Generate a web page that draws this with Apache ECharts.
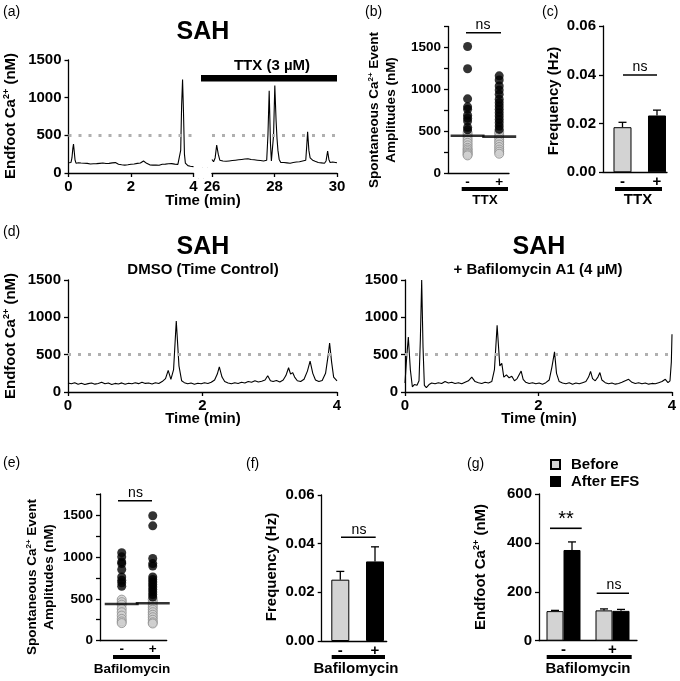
<!DOCTYPE html>
<html><head><meta charset="utf-8">
<script src="https://cdn.jsdelivr.net/npm/echarts@6/dist/echarts.min.js"></script>
<style>html,body{margin:0;padding:0;background:#fff}#c{width:680px;height:681px}</style>
</head><body><div id="c"></div>
<script>
// ---------------- DATA ----------------
const threshold = 500;
const cats = ['-', '+'];
// (a) SAH trace before TTX, time (min) / Ca2+ (nM)
const traceA_before = [[0.00,135],[0.04,128],[0.08,140],[0.11,200],[0.14,330],[0.16,385],[0.18,300],[0.21,170],[0.24,130],[0.28,118],[0.32,135],[0.36,120],[0.40,132],[0.45,118],[0.50,130],[0.55,115],[0.60,128],[0.65,136],[0.70,120],[0.75,130],[0.80,122],[0.85,134],[0.90,124],[0.95,116],[1.00,128],[1.05,120],[1.10,132],[1.15,118],[1.20,126],[1.25,114],[1.30,128],[1.35,120],[1.40,134],[1.45,124],[1.50,138],[1.55,122],[1.60,116],[1.65,124],[1.70,110],[1.75,118],[1.80,105],[1.85,115],[1.90,110],[1.95,102],[2.00,116],[2.05,108],[2.10,120],[2.15,106],[2.20,128],[2.25,115],[2.30,132],[2.35,148],[2.40,160],[2.45,140],[2.50,128],[2.55,118],[2.60,108],[2.65,120],[2.70,104],[2.75,114],[2.80,106],[2.85,118],[2.90,103],[2.95,108],[3.00,116],[3.05,102],[3.10,118],[3.15,108],[3.20,122],[3.25,112],[3.30,125],[3.35,108],[3.40,118],[3.45,106],[3.50,114],[3.55,120],[3.59,300],[3.62,900],[3.65,1240],[3.68,800],[3.71,250],[3.74,130],[3.78,112],[3.82,98],[3.86,110],[3.90,90],[3.95,100],[4.00,85]];
// (a) SAH trace with TTX
const traceA_ttx = [[26.00,180],[26.05,150],[26.10,200],[26.15,370],[26.20,250],[26.25,170],[26.30,150],[26.35,160],[26.40,140],[26.45,155],[26.50,145],[26.55,160],[26.60,150],[26.65,165],[26.70,155],[26.75,170],[26.80,160],[26.85,175],[26.90,165],[26.95,180],[27.00,170],[27.05,185],[27.10,175],[27.15,190],[27.20,170],[27.25,180],[27.30,165],[27.35,175],[27.40,160],[27.45,170],[27.50,155],[27.55,165],[27.60,150],[27.65,160],[27.70,155],[27.75,170],[27.79,500],[27.83,1090],[27.87,400],[27.90,160],[27.94,170],[27.97,500],[28.01,1160],[28.05,700],[28.08,460],[28.11,300],[28.15,180],[28.20,140],[28.25,130],[28.30,140],[28.35,125],[28.40,135],[28.45,120],[28.50,130],[28.55,125],[28.60,140],[28.65,130],[28.70,145],[28.75,135],[28.80,150],[28.85,140],[28.90,160],[28.95,150],[29.00,170],[29.03,350],[29.06,548],[29.10,300],[29.14,200],[29.18,190],[29.22,170],[29.26,175],[29.30,155],[29.35,160],[29.40,140],[29.45,150],[29.50,135],[29.55,145],[29.60,130],[29.65,160],[29.70,292],[29.74,180],[29.78,140],[29.82,130],[29.86,145],[29.90,130],[29.95,140],[30.00,135]];
// (d) DMSO time control trace
const traceD_dmso = [[0.00,120],[0.05,110],[0.10,125],[0.15,105],[0.20,118],[0.25,100],[0.30,112],[0.35,120],[0.40,105],[0.45,115],[0.50,130],[0.55,110],[0.60,120],[0.65,100],[0.70,115],[0.75,108],[0.80,122],[0.85,105],[0.90,118],[0.95,110],[1.00,125],[1.05,112],[1.10,130],[1.15,115],[1.20,120],[1.25,108],[1.30,125],[1.35,115],[1.40,140],[1.45,180],[1.49,290],[1.53,170],[1.57,300],[1.61,950],[1.65,350],[1.69,150],[1.73,125],[1.78,110],[1.83,120],[1.88,105],[1.93,118],[1.98,110],[2.03,125],[2.08,115],[2.13,130],[2.18,160],[2.22,240],[2.25,337],[2.29,200],[2.33,140],[2.38,120],[2.43,110],[2.48,125],[2.53,115],[2.58,130],[2.63,120],[2.68,140],[2.73,130],[2.78,150],[2.83,135],[2.88,145],[2.93,160],[2.97,218],[3.01,150],[3.05,140],[3.10,155],[3.15,135],[3.20,160],[3.24,220],[3.28,325],[3.31,240],[3.34,260],[3.37,200],[3.41,150],[3.46,140],[3.51,170],[3.56,280],[3.60,413],[3.64,250],[3.68,160],[3.73,140],[3.78,155],[3.83,250],[3.87,500],[3.89,657],[3.92,400],[3.95,200],[4.00,150]];
// (d) Bafilomycin A1 trace
const traceD_baf = [[0.00,120],[0.02,400],[0.05,737],[0.08,300],[0.11,70],[0.14,100],[0.18,90],[0.21,150],[0.23,700],[0.25,1500],[0.27,600],[0.29,90],[0.32,60],[0.36,100],[0.40,120],[0.45,110],[0.50,125],[0.55,115],[0.60,140],[0.65,120],[0.70,130],[0.75,115],[0.80,125],[0.85,110],[0.90,130],[0.95,150],[1.00,200],[1.05,140],[1.10,125],[1.15,115],[1.20,130],[1.25,120],[1.30,140],[1.34,300],[1.38,893],[1.42,350],[1.45,383],[1.48,200],[1.52,230],[1.56,190],[1.60,210],[1.64,150],[1.68,180],[1.71,230],[1.74,280],[1.77,170],[1.81,130],[1.86,115],[1.91,125],[1.96,110],[2.01,120],[2.06,105],[2.11,125],[2.16,160],[2.20,330],[2.24,537],[2.27,250],[2.31,140],[2.36,120],[2.41,110],[2.46,125],[2.51,105],[2.56,120],[2.61,110],[2.66,125],[2.71,140],[2.75,200],[2.78,277],[2.81,180],[2.85,150],[2.89,200],[2.92,260],[2.95,160],[3.00,125],[3.05,110],[3.10,120],[3.15,105],[3.20,115],[3.25,130],[3.30,150],[3.35,170],[3.40,130],[3.45,115],[3.50,125],[3.55,110],[3.60,120],[3.65,105],[3.70,115],[3.75,110],[3.80,125],[3.85,140],[3.90,170],[3.94,125],[3.97,150],[3.99,400],[4.00,773]];
// (b) event amplitudes, TTX - / +
const ampTTXminusHigh = [1510,1245,885,790,760,690,655,620,545,515];
const ampTTXminusLow  = [480,450,420,390,360,330,300,280,260,240,225,210];
const ampTTXplusHigh  = [1160,1110,1040,990,940,880,840,800,760,720,680,640,600,560,520];
const ampTTXplusLow   = [490,460,430,400,370,340,310,280,255,230];
const ampTTXmeans     = [445,434];
// (c) frequency, TTX - / +
const freqTTX    = [0.0185,0.0233];
const freqTTXerr = [0.0020,0.0022];
// (e) event amplitudes, Bafilomycin - / +
const ampBafMinusHigh = [1050,1000,940,920,850,760,720,690,650];
const ampBafMinusLow  = [490,460,430,380,340,300,260,230,210];
const ampBafPlusHigh  = [1490,1370,980,920,890,760,730,700,670,640,610,580,550,520];
const ampBafPlusLow   = [490,460,430,400,370,340,310,280,250,220,205];
const ampBafMeans     = [438,446];
// (f) frequency, Bafilomycin - / +
const freqBaf    = [0.0252,0.0327];
const freqBafErr = [0.0034,0.0060];
// (g) endfoot Ca2+ before / after EFS, Bafilomycin - / +
const efsBefore    = [121,124];
const efsBeforeErr = [3,6];
const efsAfter     = [371,122];
const efsAfterErr  = [33,6];

// ---------------- STYLE HELPERS ----------------
const FF = '"Liberation Sans", Arial, Helvetica, sans-serif';
const BLACK = '#000';
const GRAY = '#d3d3d3';
const axLine = {show:true, onZero:false, lineStyle:{color:BLACK, width:1.3}};
const plain = (v)=>String(v);

function yAx(gi, min, max, interval, fs, fmt, show) {
  return {gridIndex:gi, type:'value', min, max, interval, show: show !== false,
    axisLine: axLine,
    axisTick:{show:true, inside:false, length:4, lineStyle:{color:BLACK, width:1.3}},
    splitLine:{show:false},
    axisLabel:{color:BLACK, fontFamily:FF, fontWeight:'bold', fontSize:fs, margin:7, formatter:fmt || plain}};
}
function timeX(gi, min, max) {
  return {gridIndex:gi, type:'value', min, max, interval:2,
    axisLine: axLine,
    axisTick:{show:true, length:4, lineStyle:{color:BLACK, width:1.3}},
    splitLine:{show:false},
    axisLabel:{color:BLACK, fontFamily:FF, fontWeight:'bold', fontSize:15, margin:6, formatter:plain}};
}
function catValX(gi, min, max, fs) {
  return {gridIndex:gi, type:'value', min, max,
    axisLine: axLine, axisTick:{show:false}, splitLine:{show:false},
    axisLabel:{customValues:[0,1], color:BLACK, fontFamily:FF, fontWeight:'bold', fontSize:fs, margin:2,
      formatter:(v)=>cats[Math.round(v)] }};
}
const mark500 = {silent:true, symbol:'none', label:{show:false}, animation:false,
  lineStyle:{color:'#b0b0b0', type:[3,7], width:3, cap:'butt'}, data:[{yAxis:threshold}]};
function trace(xi, data) {
  return {type:'line', xAxisIndex:xi, yAxisIndex:xi, data, showSymbol:false, symbol:'none',
    lineStyle:{color:BLACK, width:1.1}, markLine:mark500, z:3};
}
function dots(xi, minusArr, plusArr, high) {
  const d = minusArr.map(v=>[0,v]).concat(plusArr.map(v=>[1,v]));
  return {type:'scatter', xAxisIndex:xi, yAxisIndex:xi, data:d, symbolSize:9,
    itemStyle: high ? {color:BLACK} : {color:'#d0d0d0', borderColor:'#8c8c8c', borderWidth:1},
    z: high ? 4 : 3};
}
function means(xi, arr) {
  return {type:'scatter', xAxisIndex:xi, yAxisIndex:xi, data:arr.map((v,i)=>[i,v]),
    symbol:'rect', symbolSize:[34,2.6], itemStyle:{color:BLACK}, z:5};
}
function errBars(xi, means, errs, offset) {
  return {type:'custom', xAxisIndex:xi, yAxisIndex:xi, z:1,
    data: means.map((m,i)=>[i, m, errs[i]]),
    renderItem:(p, api)=>{
      const x = api.value(0), m = api.value(1), e = api.value(2);
      const top = api.coord([x, m+e]), base = api.coord([x, m]);
      const cx = top[0] + offset;
      return {type:'group', children:[
        {type:'line', shape:{x1:cx, y1:top[1], x2:cx, y2:base[1]}, style:{stroke:BLACK, lineWidth:1.3}},
        {type:'line', shape:{x1:cx-4, y1:top[1], x2:cx+4, y2:top[1]}, style:{stroke:BLACK, lineWidth:1.3}}
      ]};
    }};
}
function freqBars(xi, vals) {
  return {type:'bar', xAxisIndex:xi, yAxisIndex:xi, barWidth:18, z:2,
    data: vals.map((v,i)=>({value:[i,v], itemStyle:{color: i===0 ? GRAY : BLACK, borderColor:BLACK, borderWidth:1}}))};
}

// graphic helpers
const T = (x,y,text,size,weight,extra)=>({type:'text', x, y, silent:true, z:100,
  style:Object.assign({text, fill:BLACK, fontFamily:FF, fontSize:size, fontWeight:weight||'normal', align:'center', verticalAlign:'middle'}, extra||{})});
const TL = (x,y,text)=>T(x,y,text,14,'normal',{align:'left'});
const L = (x1,y1,x2,y2,w)=>({type:'line', silent:true, z:100, shape:{x1,y1,x2,y2}, style:{stroke:BLACK, lineWidth:w}});
const supRich = (fs)=>({s:{fontSize:Math.round(fs*0.6), fontWeight:'bold', fontFamily:FF, fill:BLACK, padding:[0,0,Math.round(fs*0.5),0]}});
const V = (x,y,text,fs)=>({type:'text', x, y, rotation:Math.PI/2, silent:true, z:100,
  style:{text, fill:BLACK, fontFamily:FF, fontSize:fs, fontWeight:'bold', align:'center', verticalAlign:'middle', lineHeight:fs+3, rich:supRich(fs)}});

// ---------------- OPTION ----------------
const option = {
  animation:false,
  backgroundColor:'#fff',
  textStyle:{fontFamily:FF},
  grid:[
    {left:68.5, top:60, width:125, height:113},    // 0 a left
    {left:212, top:60, width:125, height:113},     // 1 a right
    {left:448, top:26.4, width:61, height:146.6},  // 2 b
    {left:603, top:26, width:64, height:146.3},    // 3 c
    {left:68, top:280, width:269, height:112},     // 4 d left
    {left:405, top:280, width:267, height:112},    // 5 d right
    {left:100, top:494, width:66.7, height:146.7}, // 6 e
    {left:321.7, top:495, width:65, height:146},   // 7 f
    {left:539, top:494, width:98, height:146.7}    // 8 g
  ],
  xAxis:[
    timeX(0,0,4), timeX(1,26,30),
    catValX(2,-0.62,1.31,13.5), catValX(3,-0.565,1.29,15),
    timeX(4,0,4), timeX(5,0,4),
    catValX(6,-0.70,1.45,13.5), catValX(7,-0.536,1.337,15),
    {gridIndex:8, type:'category', data:cats, axisLine:axLine, axisTick:{show:false},
     axisLabel:{color:BLACK, fontFamily:FF, fontWeight:'bold', fontSize:15, margin:2}}
  ],
  yAxis:[
    yAx(0,0,1500,500,15), yAx(1,0,1500,500,15,null,false),
    yAx(2,0,1750,250,13.5,(v)=> v%500===0 ? String(v) : ''),
    yAx(3,0,0.06,0.02,15,(v)=>v.toFixed(2)),
    yAx(4,0,1500,500,15), yAx(5,0,1500,500,15),
    yAx(6,0,1750,250,13.5,(v)=> v%500===0 ? String(v) : ''),
    yAx(7,0,0.06,0.02,15,(v)=>v.toFixed(2)),
    yAx(8,0,600,200,15)
  ],
  legend:{data:['Before','After EFS'], orient:'vertical', left:545, top:452, itemWidth:9, itemHeight:9, itemGap:2,
    icon:'rect', textStyle:{fontFamily:FF, fontWeight:'bold', fontSize:15, color:BLACK, padding:[0,0,0,6], lineHeight:15}},
  series:[
    trace(0, traceA_before), trace(1, traceA_ttx),
    dots(2, ampTTXminusLow, ampTTXplusLow, false), dots(2, ampTTXminusHigh, ampTTXplusHigh, true), means(2, ampTTXmeans),
    freqBars(3, freqTTX), errBars(3, freqTTX, freqTTXerr, 0),
    trace(4, traceD_dmso), trace(5, traceD_baf),
    dots(6, ampBafMinusLow, ampBafPlusLow, false), dots(6, ampBafMinusHigh, ampBafPlusHigh, true), means(6, ampBafMeans),
    freqBars(7, freqBaf), errBars(7, freqBaf, freqBafErr, 0),
    {name:'Before', type:'bar', xAxisIndex:8, yAxisIndex:8, data:efsBefore, barWidth:17, barGap:'0%', z:2,
      itemStyle:{color:GRAY, borderColor:BLACK, borderWidth:1}},
    {name:'After EFS', type:'bar', xAxisIndex:8, yAxisIndex:8, data:efsAfter, barWidth:17, barGap:'0%', z:2,
      itemStyle:{color:BLACK, borderColor:BLACK, borderWidth:1}},
    errBars(8, efsBefore, efsBeforeErr, -8.5), errBars(8, efsAfter, efsAfterErr, 8.5)
  ],
  graphic:[
    // panel letters
    TL(3,12,'(a)'), TL(365,12,'(b)'), TL(542,12,'(c)'), TL(3,232,'(d)'),
    TL(3,463,'(e)'), TL(246,464,'(f)'), TL(467,464,'(g)'),
    // (a)
    T(203,32,'SAH',25,'bold'),
    T(272,66,'TTX (3 µM)',15,'bold'),
    {type:'rect', silent:true, z:100, shape:{x:201,y:75,width:136,height:6.5}, style:{fill:BLACK}},
    {type:'rect', silent:true, z:101, shape:{x:195,y:168,width:16,height:10}, style:{fill:'#fff'}},
    L(198,178,203,168,1.2), L(203,178,208,168,1.2),
    T(203,201,'Time (min)',15,'bold'),
    V(11,116,'Endfoot Ca{s|2+} (nM)',15),
    // (b)
    V(383,110,'Spontaneous Ca{s|2+} Event\nAmplitudes (nM)',13.5),
    T(483,25,'ns',14), L(466,32.7,501,32.7,1.6),
    L(461.7,189,508,189,4), T(485,200,'TTX',13.5,'bold'),
    // (c)
    V(554,101,'Frequency (Hz)',15),
    T(640,67,'ns',14), L(623,75,657,75,1.6),
    L(615,189,662,189,4), T(638,200,'TTX',15,'bold'),
    // (d)
    T(203,247,'SAH',25,'bold'), T(203,270,'DMSO (Time Control)',15,'bold'),
    T(539,247,'SAH',25,'bold'), T(538,270,'+ Bafilomycin A1 (4 µM)',15,'bold'),
    T(203,419,'Time (min)',15,'bold'), T(539,419,'Time (min)',15,'bold'),
    V(11,336,'Endfoot Ca{s|2+} (nM)',15),
    // (e)
    V(41,577,'Spontaneous Ca{s|2+} Event\nAmplitudes (nM)',13.5),
    T(135.5,493,'ns',14), L(118,500.7,152,500.7,1.6),
    L(113,657,160,657,4), T(132,669,'Bafilomycin',13.5,'bold'),
    // (f)
    V(271.7,567,'Frequency (Hz)',15),
    T(359,530,'ns',14), L(341,537.3,375.7,537.3,1.6),
    L(331.7,657,385,657,4), T(356,669,'Bafilomycin',15,'bold'),
    // (g)
    V(481,567,'Endfoot Ca{s|2+} (nM)',15),
    T(566,519,'**',20,'normal'), L(550,528.3,581.7,528.3,1.6),
    T(614,585,'ns',14), L(596.7,593.3,629,593.3,1.6),
    L(546.7,657,631.7,657,4), T(588,669,'Bafilomycin',15,'bold')
  ]
};
const chart = echarts.init(document.getElementById('c'), null, {renderer:'canvas'});
chart.setOption(option);
</script>
</body></html>
